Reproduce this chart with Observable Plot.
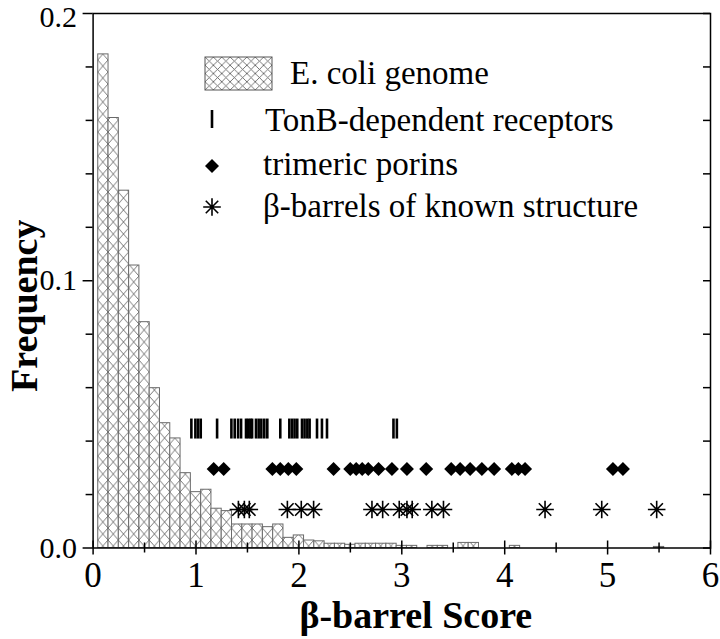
<!DOCTYPE html>
<html><head><meta charset="utf-8">
<script src="https://cdn.jsdelivr.net/npm/d3@7"></script>
<script src="https://cdn.jsdelivr.net/npm/@observablehq/plot@0.6"></script>
<style>body{margin:0;background:#fff;} #chart{width:720px;height:639px;}</style>
</head><body><div id="chart"></div>
<script>
// ---- data ----
const binCenters = [0.1,0.2,0.3,0.4,0.5,0.6,0.7,0.8,0.9,1.0,1.1,1.2,1.3,1.4,1.5,1.6,1.7,1.8,1.9,2.0,2.1,2.2,2.3,2.4,2.5,2.6,2.7,2.8,2.9,3.0,3.1,3.3,3.4,3.6,3.7,4.1,5.5];
const binFreq = [0.1847,0.1609,0.1337,0.1057,0.0845,0.0598,0.0467,0.0410,0.0280,0.0209,0.0218,0.0147,0.0138,0.0088,0.0088,0.0088,0.0078,0.0088,0.0038,0.0047,0.0028,0.0025,0.0016,0.0016,0.0012,0.0016,0.0016,0.0016,0.0016,0.0008,0.0008,0.0008,0.0008,0.0019,0.0019,0.0008,0.0004];
const binWidth = 0.1;
const tonbScores = [0.955,0.994,1.020,1.046,1.205,1.344,1.376,1.409,1.438,1.486,1.506,1.528,1.545,1.583,1.609,1.635,1.664,1.693,1.819,1.907,1.933,1.958,1.984,2.030,2.055,2.082,2.104,2.176,2.224,2.273,2.919,2.952];
const porinScores = [1.172,1.269,1.742,1.819,1.897,1.975,2.337,2.499,2.557,2.615,2.674,2.774,2.904,3.050,3.237,3.480,3.567,3.664,3.778,3.897,4.069,4.133,4.198,5.052,5.149];
const knownScores = [1.412,1.470,1.518,1.888,2.023,2.143,2.710,2.814,2.975,3.050,3.101,3.292,3.405,4.392,4.943,5.477];
const tonbLevel = 0.0447, porinLevel = 0.0296, knownLevel = 0.0144;
const xMajor = [0,1,2,3,4,5,6];
const xMinor = [0.5,1.5,2.5,3.5,4.5,5.5];
const yMajor = [0,0.1,0.2];
const yMinor = [0.02,0.04,0.06,0.08,0.12,0.14,0.16,0.18];
const legendLabels = ["E. coli genome","TonB-dependent receptors","trimeric porins","β-barrels of known structure"];
const xLabel = "β-barrel Score", yLabel = "Frequency";

// ---- layout ----
const W = 720, H = 639, mL = 92.6, mR = 10, mT = 13, mB = 91.5;
const innerW = W - mL - mR, innerH = H - mT - mB;
const serif = "'Liberation Serif','Times New Roman',serif";
const fmtY = d3.format(".1f");
const yTop = yMajor[yMajor.length - 1];

const hist = binCenters.map((c, i) => ({x1: c - binWidth / 2, x2: c + binWidth / 2, y: binFreq[i]}));

const vbar = {draw(c, s) { const r = Math.sqrt(s / Math.PI); c.moveTo(0, -r); c.lineTo(0, r); }};
const diamondSym = {draw(c, s) { const r = Math.sqrt(s / Math.PI); c.moveTo(0, -r); c.lineTo(r, 0); c.lineTo(0, r); c.lineTo(-r, 0); c.closePath(); }};
const star8 = {draw(c, s) { const r = Math.sqrt(s / Math.PI); const d = r * Math.SQRT1_2;
  c.moveTo(-r, 0); c.lineTo(r, 0); c.moveTo(0, -r); c.lineTo(0, r);
  c.moveTo(-d, -d); c.lineTo(d, d); c.moveTo(-d, d); c.lineTo(d, -d); }};

const plot = Plot.plot({
  width: W, height: H, marginLeft: mL, marginRight: mR, marginTop: mT, marginBottom: mB,
  x: {domain: [0, 6]},
  y: {domain: [0, 0.2]},
  style: {fontFamily: serif, color: "black", background: "white", overflow: "visible"},
  marks: [
    Plot.rectY(hist, {x1: "x1", x2: "x2", y: "y", fill: "url(#hatchBar)", stroke: "#6a6a6a", strokeWidth: 1}),
    Plot.dot(tonbScores, {x: d => d, y: () => tonbLevel, symbol: vbar, r: 10, stroke: "black", strokeWidth: 2.6, fill: "none"}),
    Plot.dot(porinScores, {x: d => d, y: () => porinLevel, symbol: diamondSym, r: 7, fill: "black", stroke: "none"}),
    Plot.dot(knownScores, {x: d => d, y: () => knownLevel, symbol: star8, r: 8.8, stroke: "black", strokeWidth: 1.6, fill: "none"}),
    Plot.frame({stroke: "black", strokeWidth: 1.5}),
    Plot.axisX(xMajor, {tickSize: 7, tickPadding: 7, fontSize: 35, tickFormat: d => String(d), strokeWidth: 1.5, label: null}),
    Plot.tickX(xMajor, {x: d => d, insetTop: innerH - 7, stroke: "black", strokeWidth: 1.5}),
    Plot.tickX(xMinor, {x: d => d, insetTop: innerH - 5, insetBottom: -5, stroke: "black", strokeWidth: 1.5}),
    Plot.axisY(yMajor, {tickSize: 10, tickPadding: 6, fontSize: 30, tickFormat: d => d === yTop ? "" : fmtY(d), strokeWidth: 1.5, label: null}),
    Plot.axisY([yTop], {tickSize: 0, tickPadding: 16, dy: 4, fontSize: 30, tickFormat: fmtY, label: null}),
    Plot.tickY(yMinor, {y: d => d, insetRight: innerW, insetLeft: -7, stroke: "black", strokeWidth: 1.5}),
    Plot.tickY(yMinor.concat(yMajor), {y: d => d, insetLeft: innerW - 7, stroke: "black", strokeWidth: 1.5}),
    Plot.text([xLabel], {frameAnchor: "bottom", textAnchor: "middle", lineAnchor: "middle", dy: 68, dx: 14, fontSize: 38, fontWeight: "bold", text: d => d}),
    Plot.text([yLabel], {frameAnchor: "left", textAnchor: "middle", lineAnchor: "middle", dx: -68, dy: 25, rotate: -90, fontSize: 38, fontWeight: "bold", text: d => d})
  ]
});
document.getElementById("chart").appendChild(plot);

// ---- hatch patterns ----
const xs = plot.scale("x");
const px0 = xs.apply(0.05), pw = xs.apply(0.15) - xs.apply(0.05);
const svg = d3.select(plot);
const defs = svg.insert("defs", ":first-child");
const ph = 12;
const pat = defs.append("pattern").attr("id", "hatchBar").attr("patternUnits", "userSpaceOnUse")
  .attr("x", px0).attr("y", 0).attr("width", pw).attr("height", ph);
pat.append("rect").attr("width", pw).attr("height", ph).attr("fill", "white");
pat.append("path").attr("d", `M0,0L${pw},${ph}M${pw},0L0,${ph}`).attr("stroke", "#555").attr("stroke-width", 0.8).attr("fill", "none");

// ---- legend (inside plot area) ----
const lg = svg.append("g").style("font-family", serif).style("font-size", "33px").attr("fill", "black").attr("text-anchor", "start");
const lx = 205, bw = 67, bh = 33, by = 57, lcw = bw / 8;
const patL = defs.append("pattern").attr("id", "hatchLeg").attr("patternUnits", "userSpaceOnUse")
  .attr("x", lx).attr("y", by).attr("width", lcw).attr("height", bh / 4);
patL.append("rect").attr("width", lcw).attr("height", bh / 4).attr("fill", "white");
patL.append("path").attr("d", `M0,0L${lcw},${bh/4}M${lcw},0L0,${bh/4}`).attr("stroke", "#555").attr("stroke-width", 0.8);
lg.append("rect").attr("x", lx).attr("y", by).attr("width", bw).attr("height", bh)
  .attr("fill", "url(#hatchLeg)").attr("stroke", "#555").attr("stroke-width", 1);
lg.append("text").attr("x", 290).attr("y", 84).text(legendLabels[0]);
const sx = 212;
lg.append("line").attr("x1", sx).attr("x2", sx).attr("y1", 110).attr("y2", 128).attr("stroke", "black").attr("stroke-width", 2.6);
lg.append("text").attr("x", 265).attr("y", 131).text(legendLabels[1]);
lg.append("path").attr("transform", `translate(${sx},166)`).attr("d", "M0,-7L7,0L0,7L-7,0Z").attr("fill", "black");
lg.append("text").attr("x", 263).attr("y", 175).text(legendLabels[2]);
const sr = 8.8, sd = sr * Math.SQRT1_2;
lg.append("path").attr("transform", `translate(${sx},207)`)
  .attr("d", `M${-sr},0L${sr},0M0,${-sr}L0,${sr}M${-sd},${-sd}L${sd},${sd}M${-sd},${sd}L${sd},${-sd}`)
  .attr("stroke", "black").attr("stroke-width", 1.6).attr("fill", "none");
lg.append("text").attr("x", 263).attr("y", 217).text(legendLabels[3]);
</script>
</body></html>
